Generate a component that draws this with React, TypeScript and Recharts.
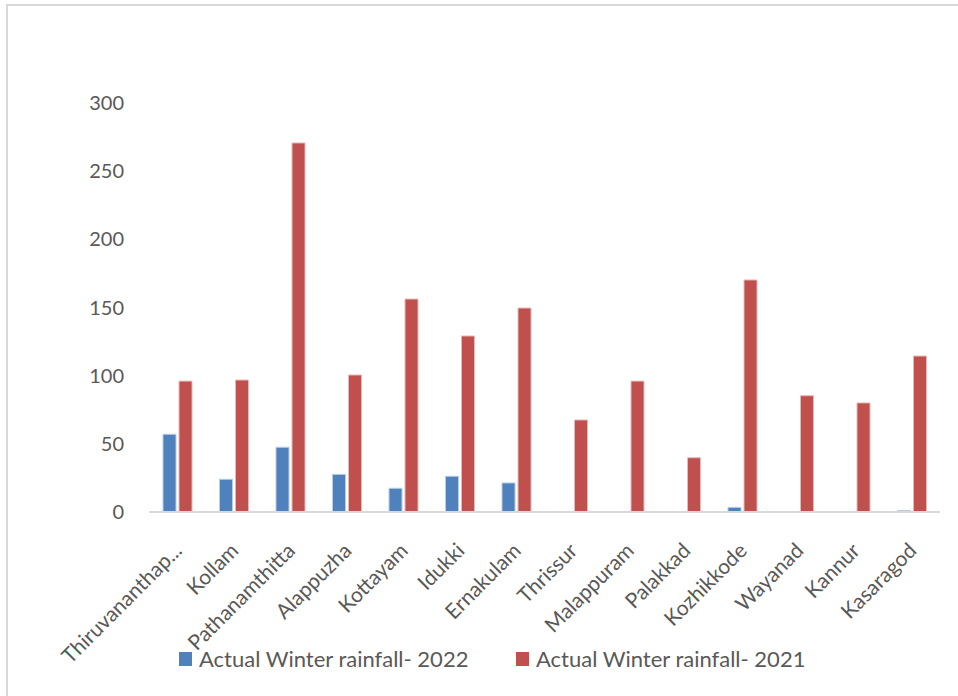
import React from "react";
import { BarChart, Bar, XAxis, YAxis } from "recharts";

const districts = [
  "Thiruvananthapuram", "Kollam", "Pathanamthitta", "Alappuzha", "Kottayam", "Idukki",
  "Ernakulam", "Thrissur", "Malappuram", "Palakkad", "Kozhikkode", "Wayanad", "Kannur", "Kasaragod",
];
const rain2022 = [57, 24, 47.5, 27.6, 17.4, 26.2, 21.3, 0, 0, 0, 3.4, 0, 0, 1];
const rain2021 = [96, 96.8, 270.7, 100.5, 156.2, 129.1, 149.6, 67.5, 96, 39.8, 170.2, 85.3, 80, 114.4];
const yTicks = [0, 50, 100, 150, 200, 250, 300];
const seriesNames = ["Actual Winter rainfall- 2022", "Actual Winter rainfall- 2021"];
const colors = ["#4f81bd", "#c0504d"];
const strokes = ["#b9cde5", "#e6b9b8"];

const data = districts.map((d, i) => ({ name: d, a: rain2022[i], b: rain2021[i] }));

const FONT = "Lato, 'Open Sans', sans-serif";
const TEXT = "#595959";

const fmt = (s: string) => (s.length > 14 ? s.slice(0, 14) + "..." : s);

const XTick = (props: any) => {
  const { x, y, payload } = props;
  return (
    <g transform={`translate(${x},${y + 34}) rotate(-45)`}>
      <text x={0} y={0} textAnchor="end" dominantBaseline="central" fill={TEXT} fontSize={21} fontFamily={FONT}>
        {fmt(payload.value)}
      </text>
    </g>
  );
};

const LegendItem = ({ left, color, label }: { left: number; color: string; label: string }) => (
  <div style={{ position: "absolute", left, top: 645, height: 28, display: "flex", alignItems: "center", fontFamily: FONT, fontSize: 22, color: TEXT, whiteSpace: "nowrap", lineHeight: "28px" }}>
    <span style={{ display: "inline-block", width: 13, height: 14, background: color, marginRight: 7 }} />
    <span>{label}</span>
  </div>
);

export default function App() {
  return (
    <div style={{ position: "absolute", left: 0, top: 0, width: 958, height: 696, overflow: "hidden", background: "#fff" }}>
      <div style={{ position: "absolute", left: 6, top: 4, width: 1200, height: 1200, borderLeft: "2px solid #d9d9d9", borderTop: "2px solid #d9d9d9" }} />
      <div style={{ position: "absolute", left: 0, top: 0 }}>
        <BarChart width={958} height={696} data={data} margin={{ top: 103, right: 18, left: 0, bottom: 0 }} barGap={3} barSize={13}>
          <XAxis dataKey="name" axisLine={{ stroke: "#d9d9d9", strokeWidth: 2 }} tickLine={false} tickSize={0} tickMargin={0} height={184} interval={0} tick={<XTick />} />
          <YAxis domain={[0, 300]} ticks={yTicks} axisLine={false} tickLine={false} tickSize={0} tickMargin={25} width={149} tick={{ fill: TEXT, fontSize: 20, fontFamily: FONT }} />
          <Bar dataKey="a" name={seriesNames[0]} fill={colors[0]} stroke={strokes[0]} strokeWidth={1} isAnimationActive={false} />
          <Bar dataKey="b" name={seriesNames[1]} fill={colors[1]} stroke={strokes[1]} strokeWidth={1} isAnimationActive={false} />
        </BarChart>
      </div>
      <LegendItem left={179} color={colors[0]} label={seriesNames[0]} />
      <LegendItem left={516} color={colors[1]} label={seriesNames[1]} />
    </div>
  );
}
